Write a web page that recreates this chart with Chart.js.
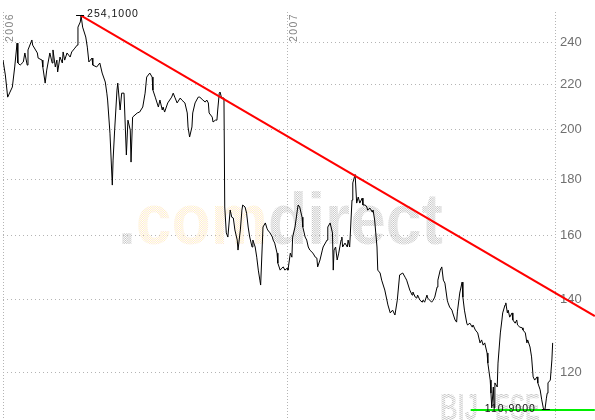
<!DOCTYPE html>
<html><head><meta charset="utf-8">
<script src="https://cdn.jsdelivr.net/npm/chart.js@4.4.0/dist/chart.umd.min.js"></script>
<style>html,body{margin:0;padding:0;background:#fff;}canvas{display:block;}</style>
</head><body>
<canvas id="c" width="595" height="420"></canvas>
<script>
// days since 2006-01-01
const days = [
0,3,6,9,12,15,18,19,22,26, 28,31,32,37,38,44,45,50,51,54,
56,60,63,64,67,69,70,73,76,77, 79,82,86,88,92,95,96,99,100,102,
106,108,110,114,115,120,124,127,131,133, 134,137,140,141,143,146,147,150,152,155,
158,160,163,164,166,172,175,179,182,184, 188,191,192,195,199,201,204,205,207,211,
216,218,220,223,227,229,233,236,237,239, 242,243,246,250,252,256,259,261,263,264,
268,269,272,274,275,277,278,280,283,284, 286,288,291,293,295,297,300,301,304,306,
307,310,312,314,316,319,320,323,325,327, 329,330,333,336,338,339,342,345,346,348,
351,352,355,357,359,361,364,365,368,370, 371,374,377,378,380,383,384,387,389,391,
393,397,400,402,403,406,409,410,415,416, 419,422,423,424,426,428,430,433,434,435,
438,441,442,444,447,448,451,453,455,457, 460,461,464,466,467,470,473,474,476,479,
480,483,485,489,493,496,499,502,505,508, 512,515,517,521,524,525,528,530,531,534,
537,538,540,543,544,549,551,553,556,557, 560,562,564,566,569,570,572,575,576,579,
581,582,585,588,589,591,594,595,598,601, 602,605,608,611,613,615,617,620,621,624,
625,626,628,629,630,633,634,637,639,640, 643,644,646,647,649,652,653,656,658,659,
662,665,666,669,671,672,675,677,679,681, 684,685,688,690,692,694,696,697,698,701,
703,704];
const closes = [
231.4,224.3,214.1,216.4,218.7,228.1,239.8,230.0,229.0,230.5, 234.9,229.0,236.4,241.4,238.8,234.9,232.4,231.4,228.1,220.5,
226.6,234.9,230.0,236.4,228.1,231.4,225.7,232.9,230.0,235.4, 231.4,234.9,232.9,235.4,237.3,238.8,248.0,250.7,254.1,248.0,
242.9,237.8,230.5,232.4,229.0,228.1,230.0,225.2,221.0,215.9, 212.8,198.5,178.0,187.6,199.8,217.3,220.5,208.4,215.9,215.9,
189.6,204.0,199.8,186.8,205.3,207.1,207.5,209.7,215.9,223.3, 225.2,223.3,217.3,214.1,209.7,212.8,208.4,209.7,207.5,211.5,
214.1,215.9,214.1,211.5,213.7,212.8,211.5,207.1,201.1,196.9, 201.1,207.1,211.5,214.1,214.1,212.8,211.9,212.8,211.5,207.1,
205.3,203.2,204.0,204.0,208.4,215.9,216.4,213.7,213.7,170.0, 161.0,159.6,168.9,166.4,166.1,162.0,158.6,155.3,162.0,168.9,
170.7,170.0,167.8,163.0,159.6,156.3,158.6,156.3,153.0,148.9, 145.8,144.3,163.0,164.4,162.6,162.0,161.0,159.6,158.6,157.6,
154.3,151.1,148.9,149.5,149.9,148.9,149.5,148.9,154.3,153.0, 159.6,163.0,168.9,170.7,170.0,166.4,163.0,159.6,158.6,156.3,
155.3,154.3,153.0,152.7,149.9,152.1,155.3,156.3,158.6,163.0, 164.4,161.0,148.9,155.3,156.3,152.1,154.3,158.6,159.6,156.3,
157.6,156.3,158.6,156.3,172.5,178.8,182.0,171.4,173.6,171.4, 173.2,170.7,170.7,170.0,168.9,169.6,168.2,168.9,165.4,156.3,
148.9,148.0,145.8,142.8,138.4,136.1,136.9,135.5,139.8,147.4, 148.0,146.7,145.8,142.8,141.3,142.2,140.7,140.4,141.3,139.8,
139.2,139.8,139.2,141.3,140.4,139.2,139.8,140.7,143.7,145.8, 148.9,149.9,145.8,144.9,139.8,139.0,137.8,136.9,136.1,134.1,
133.5,136.4,141.9,145.2,140.7,136.9,133.2,132.7,133.2,132.1, 132.7,131.3,130.5,127.8,128.6,127.2,127.8,125.1,122.5,118.2,
115.0,111.5,116.5,111.5,117.5,116.5,122.5,130.5,134.1,136.1, 138.4,139.0,136.1,136.9,134.9,136.1,134.1,133.2,134.1,132.7,
132.1,131.9,131.3,130.5,127.8,128.6,126.7,124.1,119.0,118.2, 119.0,117.5,115.8,113.4,111.5,110.9,113.8,115.0,117.5,118.2,
123.3,127.8];

const yTicks = [120, 140, 160, 180, 200, 220, 240];
const yearDays = [0, 365];
const yearLabels = ['2006', '2007'];
const trendDays = [100, 758];
const trendValues = [254.1, 135.2];
const supportDays = [599, 758];
const supportValues = [111.0, 111.0];
const markerDays = [100, 694];
const markerValues = [254.1, 110.9];
const markerLabels = ['254,1000', '110,9000'];

const X_MIN = 0, X_MAX = 707, Y_MIN = 108.7, Y_MAX = 256;

const n = Math.min(days.length, closes.length);
const priceData = [];
for (let i = 0; i < n; i++) priceData.push({x: days[i], y: closes[i]});
const trendData = trendDays.map((d, i) => ({x: d, y: trendValues[i]}));
const supportData = supportDays.map((d, i) => ({x: d, y: supportValues[i]}));

function dotPattern(ctx, c1, c2) {
  const c = document.createElement('canvas'); c.width = 2; c.height = 2;
  const g = c.getContext('2d');
  g.fillStyle = c1; g.fillRect(0, 0, 1, 1);
  g.fillStyle = c2; g.fillRect(1, 1, 1, 1);
  return ctx.createPattern(c, 'repeat');
}

const overlay = {
  id: 'overlay',
  beforeDatasetsDraw(chart) {
    const ctx = chart.ctx;
    const gray = dotPattern(ctx, '#c4c4c4', '#cccccc');
    const yellow = dotPattern(ctx, '#fff0c2', '#fde6d6');
    ctx.save();
    ctx.font = 'bold 73px "Liberation Sans", Arial, sans-serif';
    ctx.textBaseline = 'alphabetic';
    const parts = [['.', gray], ['com', yellow], ['direct', gray]];
    const total = ctx.measureText('.comdirect').width;
    const sx = 325 / total;
    let x = 118;
    for (const [t, col] of parts) {
      const w = ctx.measureText(t).width;
      ctx.save();
      ctx.translate(x, 244); ctx.scale(sx, 1);
      ctx.fillStyle = col; ctx.fillText(t, 0, 0);
      ctx.restore();
      x += w * sx;
    }
    ctx.font = 'bold 36px "Liberation Sans", Arial, sans-serif';
    const wm2 = [['BIJ', 440, 38], ['ESE', 495, 45]];
    for (const [t, px, tw] of wm2) {
      const w = ctx.measureText(t).width;
      ctx.save();
      ctx.translate(px, 420); ctx.scale(tw / w, 1);
      ctx.fillStyle = gray; ctx.fillText(t, 0, 0);
      ctx.restore();
    }
    ctx.restore();
  },
  afterDatasetsDraw(chart) {
    const ctx = chart.ctx;
    const xs = chart.scales.x, ys = chart.scales.y;
    ctx.save();
    ctx.strokeStyle = '#000'; ctx.lineWidth = 1;
    ctx.fillStyle = '#111';
    ctx.font = '10.5px "Liberation Sans", Arial, sans-serif';
    try { ctx.letterSpacing = '1px'; } catch (e) {}
    ctx.textBaseline = 'middle';
    for (let i = 0; i < markerDays.length; i++) {
      const px = xs.getPixelForValue(markerDays[i]);
      const py = Math.round(ys.getPixelForValue(markerValues[i])) - 0.5;
      ctx.beginPath();
      if (i === 0) { ctx.moveTo(px - 5, py); ctx.lineTo(px + 3, py); }
      else { ctx.moveTo(px - 3, py); ctx.lineTo(px + 5, py); }
      ctx.stroke();
      if (i === 0) { ctx.textAlign = 'left'; ctx.fillText(markerLabels[i], px + 6, py - 1); }
      else { ctx.textAlign = 'right'; ctx.fillText(markerLabels[i], px - 9, py); }
    }
    // year labels
    ctx.fillStyle = '#858585';
    ctx.font = '10.5px "Liberation Sans", Arial, sans-serif';
    try { ctx.letterSpacing = '1.4px'; } catch (e) {}
    ctx.textBaseline = 'alphabetic';
    ctx.textAlign = 'right';
    for (let i = 0; i < yearDays.length; i++) {
      const gx = xs.getPixelForValue(yearDays[i]);
      ctx.save();
      ctx.translate(gx + 9.5, chart.chartArea.top + 1);
      ctx.rotate(-Math.PI / 2);
      ctx.fillText(yearLabels[i], 0, 0);
      ctx.restore();
    }
    ctx.restore();
  }
};

new Chart(document.getElementById('c'), {
  type: 'line',
  data: {
    datasets: [
      {data: trendData, borderColor: '#ff0000', borderWidth: 2, pointRadius: 0, clip: false, order: 0},
      {data: supportData, borderColor: '#00ee00', borderWidth: 2, pointRadius: 0, clip: false, order: 1},
      {data: priceData, borderColor: '#000000', borderWidth: 1, pointRadius: 0, tension: 0, order: 2}
    ]
  },
  options: {
    responsive: false,
    devicePixelRatio: 1,
    animation: false,
    events: [],
    layout: {padding: {top: 12, left: 3, right: 0, bottom: 0}, autoPadding: false},
    plugins: {legend: {display: false}, tooltip: {enabled: false}},
    scales: {
      x: {
        type: 'linear', min: X_MIN, max: X_MAX, bounds: 'data',
        afterBuildTicks: s => { s.ticks = [X_MIN, yearDays[1], X_MAX].map(v => ({value: v})); },
        ticks: {display: false},
        grid: {color: '#b4b4b4', lineWidth: 1, drawTicks: false},
        border: {display: false, dash: [1, 2]},
        afterFit: s => { s.height = 0; s.paddingLeft = 0; s.paddingRight = 0; s.paddingTop = 0; s.paddingBottom = 0; }
      },
      y: {
        type: 'logarithmic', position: 'right', min: Y_MIN, max: Y_MAX, bounds: 'data',
        afterBuildTicks: s => { s.ticks = yTicks.map(v => ({value: v})); },
        ticks: {callback: v => String(v), color: '#707070', autoSkip: false, padding: 5,
                font: {family: '"Liberation Sans", Arial, sans-serif', size: 13}},
        grid: {color: '#b4b4b4', lineWidth: 1, drawTicks: false},
        border: {display: false, dash: [1, 3]},
        afterFit: s => { s.width = 40; s.paddingTop = 0; s.paddingBottom = 0; s.paddingLeft = 0; s.paddingRight = 0; }
      }
    }
  },
  plugins: [overlay]
});
</script>
</body></html>
